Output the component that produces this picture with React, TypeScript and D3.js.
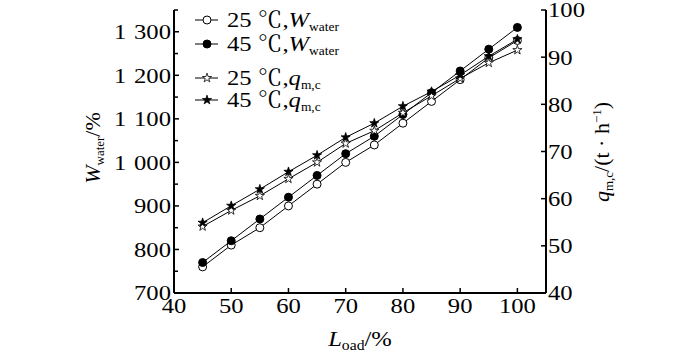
import React from 'react';
import * as d3 from 'd3';

const loads = [45, 50, 55, 60, 65, 70, 75, 80, 85, 90, 95, 100];
const water25 = [760, 810, 850, 900, 950, 1000, 1040, 1090, 1140, 1190, 1240, 1280];
const water45 = [770, 820, 870, 920, 970, 1020, 1060, 1110, 1160, 1210, 1260, 1310];
const qmc25 = [54.1, 57.5, 60.6, 64.2, 67.7, 71.7, 74.4, 78.2, 81.8, 85.5, 88.8, 91.5];
const qmc45 = [54.9, 58.5, 62.0, 65.7, 69.2, 73.0, 76.0, 79.6, 82.7, 86.2, 90.2, 93.8];

const xTicks = [40, 50, 60, 70, 80, 90, 100];
const leftTicks = [700, 800, 900, 1000, 1100, 1200, 1300];
const leftMinor = [750, 850, 950, 1050, 1150, 1250, 1350];
const rightTicks = [40, 50, 60, 70, 80, 90, 100];

const FONT = "'Liberation Serif', serif";
const CJK = "'Noto Serif CJK SC', 'Noto Sans CJK SC', serif";
const SX = 1.12; // glyphs in the source figure are slightly wide

const x = d3.scaleLinear().domain([40, 105]).range([174, 546]);
const yL = d3.scaleLinear().domain([700, 1350]).range([293, 10]);
const yR = d3.scaleLinear().domain([40, 100]).range([293, 10]);

// "1 300" style: thousands group split with a gap
const ThousandsLabel = ({ v }: { v: number }) => {
  const s = String(v);
  if (s.length <= 3) return <>{s}</>;
  return (
    <>
      <tspan>{s.slice(0, s.length - 3)}</tspan>
      <tspan dx={7}>{s.slice(-3)}</tspan>
    </>
  );
};

const starPath = d3.symbol().type(d3.symbolStar).size(26)() as string;

type Kind = 'open-circle' | 'filled-circle' | 'open-star' | 'filled-star';

const Marker = ({ kind, cx, cy }: { kind: Kind; cx: number; cy: number }) => {
  if (kind === 'open-circle' || kind === 'filled-circle') {
    return (
      <circle cx={cx} cy={cy} r={4} fill={kind === 'filled-circle' ? '#000' : '#fff'} stroke="#000" strokeWidth={1} />
    );
  }
  return (
    <path d={starPath} transform={`translate(${cx},${cy})`} fill={kind === 'filled-star' ? '#000' : '#fff'} stroke="#000" strokeWidth={0.8} />
  );
};

const series = [
  { values: water25, scale: yL, kind: 'open-circle' as Kind, temp: '25', name: 'W', sub: 'water' },
  { values: water45, scale: yL, kind: 'filled-circle' as Kind, temp: '45', name: 'W', sub: 'water' },
  { values: qmc25, scale: yR, kind: 'open-star' as Kind, temp: '25', name: 'q', sub: 'm,c' },
  { values: qmc45, scale: yR, kind: 'filled-star' as Kind, temp: '45', name: 'q', sub: 'm,c' },
];
const legendY = [20, 44, 78, 100];

export default function App() {
  const line = (scale: d3.ScaleLinear<number, number>) =>
    d3.line<number>().x((_, i) => x(loads[i])).y((d) => scale(d));

  return (
    <svg width={700} height={354} style={{ position: 'absolute', left: 0, top: 0 }}>
      {/* axes */}
      <g stroke="#000" strokeWidth={2} fill="none">
        <line x1={x(40)} x2={x(40)} y1={yL(1350)} y2={yL(700)} />
        <line x1={x(105)} x2={x(105)} y1={yR(100)} y2={yR(40)} />
        <line x1={x(40)} x2={x(105)} y1={yL(700)} y2={yL(700)} />
      </g>
      <g stroke="#000" strokeWidth={1.5}>
        {leftTicks.map((t) => (
          <line key={t} x1={x(40)} x2={x(40) + 5} y1={yL(t)} y2={yL(t)} />
        ))}
        {leftMinor.map((t) => (
          <line key={t} x1={x(40)} x2={x(40) + 4} y1={yL(t)} y2={yL(t)} />
        ))}
        {rightTicks.map((t) => (
          <line key={t} x1={x(105) - 5} x2={x(105)} y1={yR(t)} y2={yR(t)} />
        ))}
        {xTicks.map((t) => (
          <line key={t} x1={x(t)} x2={x(t)} y1={yL(700)} y2={yL(700) - 5} />
        ))}
      </g>
      <g fontSize={22} fill="#000">
        {leftTicks.map((t) => (
          <text key={t} fontFamily={FONT} transform={`translate(${x(40) - 3},${yL(t)}) scale(${SX},1)`} dy="0.34em" textAnchor="end">
            <ThousandsLabel v={t} />
          </text>
        ))}
        {rightTicks.map((t) => (
          <text key={t} fontFamily={FONT} transform={`translate(${x(105) + 2},${yR(t)}) scale(${SX},1)`} dy="0.34em" textAnchor="start">{t}</text>
        ))}
        {xTicks.map((t) => (
          <text key={t} fontFamily={FONT} transform={`translate(${x(t)},313) scale(${SX},1)`} textAnchor="middle">{t}</text>
        ))}
      </g>

      {/* axis titles */}
      <text fontFamily={FONT} transform={`translate(360,346) scale(${SX},1)`} fontSize={22} textAnchor="middle">
        <tspan fontStyle="italic">L</tspan>
        <tspan fontSize={14} dy={4}>oad</tspan>
        <tspan dy={-4}>/%</tspan>
      </text>
      <text fontFamily={FONT} transform="translate(100,148) rotate(-90)" fontSize={22} textAnchor="middle">
        <tspan fontStyle="italic">W</tspan>
        <tspan fontSize={13} dy={4}>water</tspan>
        <tspan dy={-4}>/%</tspan>
      </text>
      <text fontFamily={FONT} transform="translate(609,152) rotate(-90)" fontSize={22} textAnchor="middle">
        <tspan fontStyle="italic">q</tspan>
        <tspan fontSize={13} dy={4}>m,c</tspan>
        <tspan dy={-4}>/(t · h</tspan>
        <tspan fontSize={13} dy={-8}>−1</tspan>
        <tspan dy={8}>)</tspan>
      </text>

      {/* series */}
      {series.map((s, si) => (
        <g key={si}>
          <path d={line(s.scale)(s.values) as string} fill="none" stroke="#000" strokeWidth={1} />
          {s.values.map((v, i) => (
            <Marker key={i} kind={s.kind} cx={x(loads[i])} cy={s.scale(v)} />
          ))}
        </g>
      ))}

      {/* legend */}
      {series.map((s, si) => (
        <g key={si} transform={`translate(0,${legendY[si]})`}>
          <line x1={195} x2={218} y1={0} y2={0} stroke="#000" strokeWidth={1} />
          <Marker kind={s.kind} cx={207} cy={0} />
          <text fontFamily={FONT} transform={`translate(227,7) scale(${SX},1)`} fontSize={22}>
            <tspan>{s.temp} </tspan>
            <tspan fontFamily={CJK}>℃</tspan>
            <tspan>,</tspan>
            <tspan fontStyle="italic">{s.name}</tspan>
            <tspan fontSize={12} dy={4}>{s.sub}</tspan>
          </text>
        </g>
      ))}
    </svg>
  );
}
